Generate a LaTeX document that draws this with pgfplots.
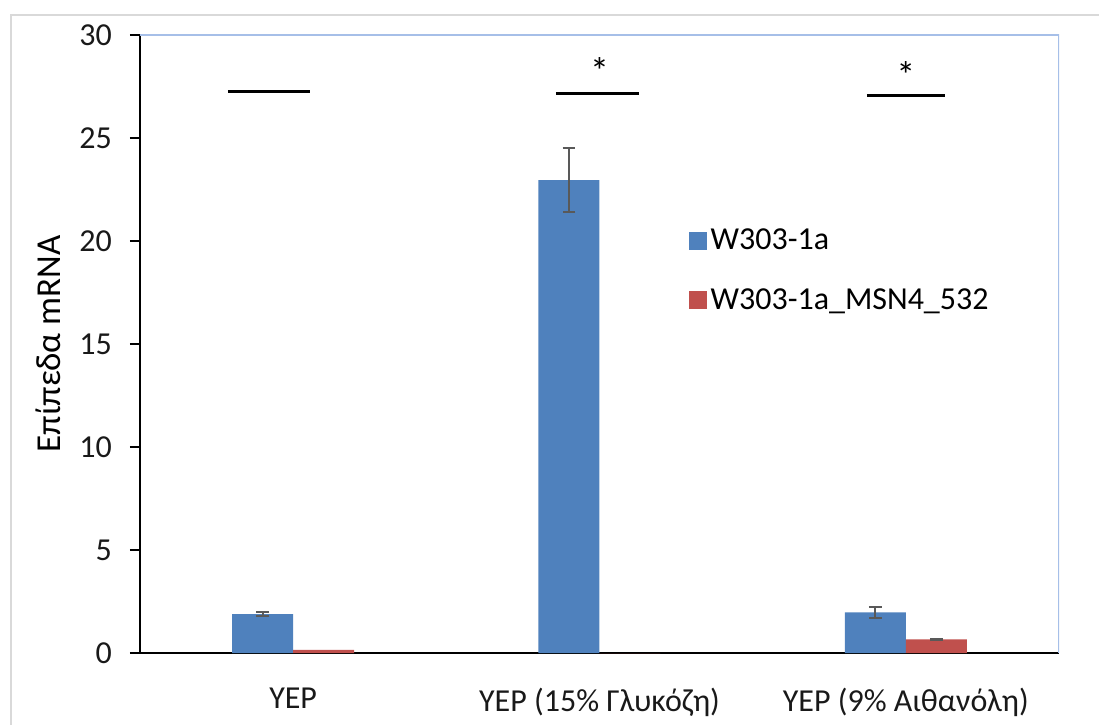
\documentclass[border=0pt]{standalone}
\usepackage{fontspec}
\setmainfont{Carlito}
\usepackage{pgfplots}
\pgfplotsset{compat=1.18}
\definecolor{barblue}{HTML}{4F81BD}
\definecolor{barred}{HTML}{C0504D}
\definecolor{errgray}{HTML}{595959}
\definecolor{framegray}{HTML}{D9D9D9}
\definecolor{axblue}{HTML}{A6BFE8}
\begin{document}
\begin{tikzpicture}
\path[use as bounding box] (-70pt,-35.5pt) rectangle (479.5pt,326.5pt);
\draw[framegray, line width=1.25pt] (-64.5pt,-40pt) -- (-64.5pt,319pt) -- (485pt,319pt);
\begin{axis}[
  at={(0,0)}, anchor=south west,
  scale only axis, width=459.5pt, height=309pt,
  xmin=-0.5, xmax=2.5, ymin=0, ymax=30,
  ybar=0pt, bar width=30.5pt,
  axis x line*=bottom, axis y line*=left,
  axis line style={line width=1.3pt, black},
  xtick={0,1,2},
  xticklabels={YEP, YEP (15\% Γλυκόζη), YEP (9\% Αιθανόλη)},
  xtick style={draw=none},
  ytick={0,5,...,30},
  ytick style={line width=1.2pt, black},
  tick align=outside, major tick length=5pt,
  /pgf/number format/assume math mode=true,
  tick label style={font=\fontsize{16}{19}\selectfont, text=black!90},
  xticklabel style={yshift=-9pt},
  yticklabel style={xshift=-5.5pt},
  ylabel={Επίπεδα mRNA},
  ylabel style={at={(axis description cs:-0.1001,0.5)}, anchor=center, font=\fontsize{17.5}{21}\selectfont},
  legend cell align=left,
  legend style={draw=none, fill=none, at={(0.59,0.70)}, anchor=north west,
    font=\fontsize{16}{19}\selectfont, row sep=14pt},
  legend image code/.code={\fill[#1] (0pt,-4.5pt) rectangle (9pt,4.5pt);},
  error bars/error bar style={line width=1pt, errgray},
  error bars/error mark options={rotate=90, mark size=3.2pt, line width=1pt, errgray},
]
\addplot[fill=barblue, draw=none, bar shift=-15.25pt,
  error bars/y dir=both, error bars/y explicit] coordinates {
  (0,1.89) +- (0,0.11)
  (1,22.95) +- (0,1.55)
  (2,1.97) +- (0,0.25)
};
\addplot[fill=barred, draw=none, bar shift=15.25pt] coordinates {
  (0,0.15)
  (1,0)
  (2,0.66)
};
\addplot[fill=none, draw=none, bar shift=15.25pt, forget plot,
  error bars/y dir=both, error bars/y explicit] coordinates {
  (2,0.66) +- (0,0.04)
};
\legend{W303-1a, W303-1a\_MSN4\_532}
\draw[axblue, line width=1pt] (rel axis cs:0,1) -- (rel axis cs:1,1) -- (rel axis cs:1,0);
\draw[black, line width=1.5pt] (axis cs:-0.213,27.28) -- (axis cs:0.055,27.28);
\draw[black, line width=1.5pt] (axis cs:0.858,27.18) -- (axis cs:1.129,27.18);
\draw[black, line width=1.5pt] (axis cs:1.873,27.04) -- (axis cs:2.128,27.04);
\node[font=\fontsize{19}{22}\selectfont] at (axis cs:1.0,28.25) {*};
\node[font=\fontsize{19}{22}\selectfont] at (axis cs:2.0,28.05) {*};
\end{axis}
\end{tikzpicture}
\end{document}
